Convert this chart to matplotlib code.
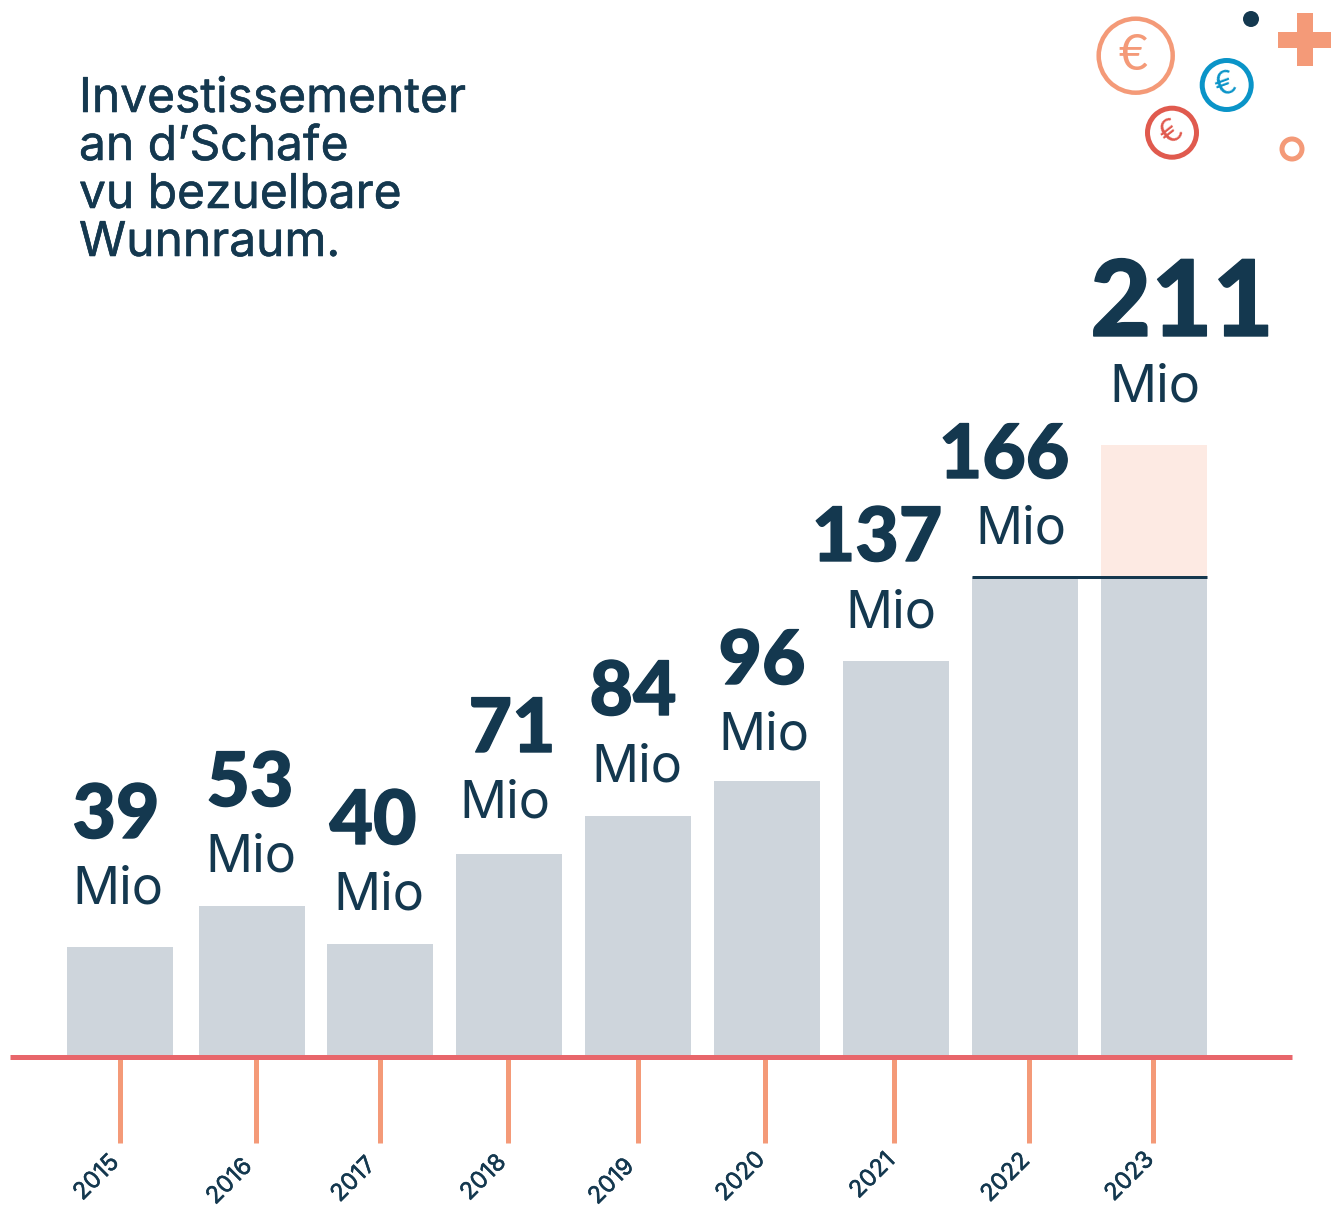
import matplotlib.pyplot as plt
import matplotlib.patheffects as pe
from matplotlib.patches import Circle, Rectangle

W, H = 1331, 1211

# Donnéeën
years = ['2015', '2016', '2017', '2018', '2019', '2020', '2021', '2022', '2023']
labels = ['39', '53', '40', '71', '84', '96', '137', '166', '211']
# bar heights
base_values = [38, 52.2, 39, 70.2, 83.4, 95.5, 137, 166, 166]
extra_values = [0, 0, 0, 0, 0, 0, 0, 0, 45.7]
title_lines = ['Investissementer', "an d’Schafe", 'vu bezuelbare', 'Wunnraum.']

# Layout (pixels)
bar_x = [120, 252, 380, 509, 638, 767, 896, 1025, 1154]
tick_x = [120, 256, 380, 508, 638, 765, 894, 1029, 1153]
year_pos = [(97, 1178), (230, 1182), (354, 1180), (484, 1178), (612, 1182),
            (741, 1177), (873, 1176), (1006, 1178), (1130, 1177)]
num_pos = [(116, 838), (250, 806), (373, 844), (512, 752), (633, 715),
           (762, 684), (877, 561), (1004, 478), (1182, 336)]
mio_pos = [(118, 904), (251, 872), (379, 910), (505, 817), (637, 781),
           (764, 749), (891, 627), (1021, 544), (1155, 402)]

DARK = '#14384f'
GREY = '#ced5dc'
PINK = '#fdeae3'
RED = '#e8666b'
ORANGE = '#f49a78'
BLUE = '#0a94c8'
CORAL = '#e05a4e'
PX = 72 / 100  # one pixel in points

fig = plt.figure(figsize=(W / 100, H / 100), dpi=100)

# bars, on a value scale, with the baseline as bottom spine
baseline, top = 1057, 300
ax = fig.add_axes([10 / W, 1 - baseline / H, (1292 - 10) / W, (baseline - top) / H])
ax.set_xlim(10, 1292)
ax.set_ylim(0, (baseline - top) / 2.89)
ax.bar(bar_x, base_values, width=106, color=GREY, zorder=1)
ax.bar(bar_x, extra_values, bottom=base_values, width=106, color=PINK, zorder=1)
ax.plot([972, 1207], [166, 166], color=DARK, lw=3 * PX, solid_capstyle='butt', zorder=3)
ax.patch.set_visible(False)
for s in ['top', 'left', 'right']:
    ax.spines[s].set_visible(False)
ax.spines['bottom'].set_color(RED)
ax.spines['bottom'].set_linewidth(5 * PX)
ax.spines['bottom'].set_capstyle('butt')
ax.spines['bottom'].set_zorder(4)
ax.set_yticks([])
ax.set_xticks(tick_x)
ax.set_xticklabels([])
ax.tick_params(axis='x', length=86 * PX, width=5 * PX, color=ORANGE)

# overlay in pixel coordinates for the texts and the icons
ov = fig.add_axes([0, 0, 1, 1])
ov.set_xlim(0, W)
ov.set_ylim(H, 0)
ov.axis('off')
ov.patch.set_visible(False)

# a thin outline of the same colour, the installed weights are lighter than the original
thin = [pe.withStroke(linewidth=0.4, foreground=DARK)]
heavy = [pe.withStroke(linewidth=1.0, foreground=DARK)]

for i, line in enumerate(title_lines):
    ov.text(79, 112 + 48 * i, line, color=DARK, fontsize=34.5, family='Inter', va='baseline',
            path_effects=thin)

for i in range(len(years)):
    size = 76 if labels[i] == '211' else 54
    ov.text(num_pos[i][0], num_pos[i][1], labels[i], color=DARK, fontsize=size,
            family='Lato', fontweight='black', ha='center', va='baseline', path_effects=heavy)
    ov.text(mio_pos[i][0], mio_pos[i][1], 'Mio', color=DARK, fontsize=37.5,
            family='Inter', ha='center', va='baseline')
    ov.text(year_pos[i][0], year_pos[i][1], years[i], color=DARK, fontsize=17,
            family='Inter', rotation=45, ha='center', va='center', path_effects=thin)

# Icons
ov.add_patch(Circle((1135.7, 55.7), 37, fill=False, ec=ORANGE, lw=4.5 * PX))
ov.add_patch(Circle((1226.7, 85), 24.5, fill=False, ec=BLUE, lw=5 * PX))
ov.add_patch(Circle((1172, 132.7), 24.5, fill=False, ec=CORAL, lw=5 * PX))
ov.add_patch(Circle((1251, 19), 8, fc=DARK, ec='none'))
ov.add_patch(Circle((1292, 149), 10, fill=False, ec=ORANGE, lw=5 * PX))
ov.add_patch(Rectangle((1278, 32), 53, 16, fc=ORANGE, ec='none'))
ov.add_patch(Rectangle((1297, 13), 16, 53, fc=ORANGE, ec='none'))
ov.text(1133, 56, '€', color=ORANGE, fontsize=36, family='Lato',
        ha='center', va='center')
ov.text(1226, 85, '€', color=BLUE, fontsize=24, family='Lato',
        rotation=20, ha='center', va='center')
ov.text(1172, 133, '€', color=CORAL, fontsize=24, family='Lato',
        rotation=38, ha='center', va='center')

fig.savefig('out.png', dpi=100)
